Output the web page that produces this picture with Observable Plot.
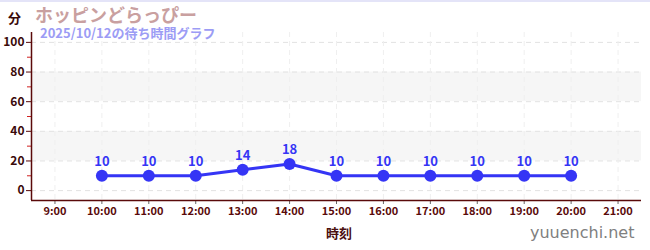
<!DOCTYPE html>
<html><head><meta charset="utf-8">
<script src="https://cdn.jsdelivr.net/npm/d3@7"></script>
<script src="https://cdn.jsdelivr.net/npm/@observablehq/plot@0.6"></script>
<style>
body{margin:0;background:#fff;font-family:"Noto Sans CJK JP","Noto Sans",sans-serif;}
#wrap{position:relative;width:650px;height:250px;overflow:hidden;border-top:2px solid #e4e4f8;box-sizing:border-box;}
#chart{position:absolute;left:0;top:-2px;}
.t{position:absolute;white-space:nowrap;font-weight:bold;line-height:1;}
</style></head>
<body>
<div id="wrap"><div id="chart"></div>
<div class="t" style="left:35px;top:3px;font-size:18px;color:#c9a0a0;">ホッピンどらっぴー</div>
<div class="t" style="left:40px;top:24px;font-size:13px;color:#9c9cf5;">2025/10/12の待ち時間グラフ</div>
<div class="t" style="left:8px;top:9px;font-size:13px;color:#3a0a0a;">分</div>
<div class="t" style="left:326px;top:224px;font-size:13px;color:#4a0f0f;">時刻</div>
<div class="t" style="left:530px;top:223px;font-size:16px;color:#808080;font-weight:normal;font-family:'DejaVu Sans',sans-serif;">yuuenchi.net</div>
</div>
<script>
const hours = [10, 11, 12, 13, 14, 15, 16, 17, 18, 19, 20];
const waits = [10, 10, 10, 14, 18, 10, 10, 10, 10, 10, 10];
const xTicks = [9, 10, 11, 12, 13, 14, 15, 16, 17, 18, 19, 20, 21];
const yTicks = [0, 20, 40, 60, 80, 100];
const yMinor = [10, 30, 50, 70, 90];
const bands = [[20, 40], [60, 80]];

const data = hours.map((h, i) => ({h, w: waits[i]}));
const axisColor = "#5a0a0a";

const plot = Plot.plot({
  width: 650, height: 252,
  marginLeft: 31, marginRight: 9, marginTop: 32, marginBottom: 52,
  x: {type: "linear", domain: [8.5, 21.5], axis: null, label: null},
  y: {type: "linear", domain: [-6.67, 106.67], axis: null, label: null},
  style: {fontFamily: "'Noto Sans CJK JP','Noto Sans',sans-serif", overflow: "visible"},
  marks: [
    Plot.rectY(bands, {x1: () => 8.5, x2: () => 21.5, y1: d => d[0], y2: d => d[1], fill: "#f6f6f6"}),
    Plot.gridY(yTicks, {stroke: "#e2e2e2", strokeOpacity: 1, strokeDasharray: "5,4"}),
    Plot.gridX(xTicks, {stroke: "#efefef", strokeOpacity: 1, strokeDasharray: "5,4"}),
    Plot.axisY(yMinor, {tickSize: 4, stroke: "#d02020", tickFormat: () => "", label: null}),
    Plot.axisY(yTicks, {tickSize: 5, stroke: axisColor, fill: "#3a0a0a", fontSize: 12, fontWeight: "bold", tickPadding: 2, tickFormat: d => String(d), label: null}),
    Plot.axisX(xTicks, {tickSize: 4, stroke: "#666", fill: axisColor, fontSize: 11, fontWeight: "bold", tickPadding: 3, tickFormat: d => d + ":00", label: null}),
    Plot.ruleX([8.5], {stroke: axisColor, strokeWidth: 1.5}),
    Plot.ruleY([-6.67], {stroke: axisColor, strokeWidth: 1.5}),
    Plot.line(data, {x: "h", y: "w", stroke: "#3535f5", strokeWidth: 3}),
    Plot.dot(data, {x: "h", y: "w", r: 6, fill: "#3535f5"}),
    Plot.text(data, {x: "h", y: "w", text: d => String(d.w), dy: -14, fill: "#3535f5", fontSize: 13, fontWeight: "bold"})
  ]
});
document.getElementById("chart").appendChild(plot);
</script>
</body></html>
